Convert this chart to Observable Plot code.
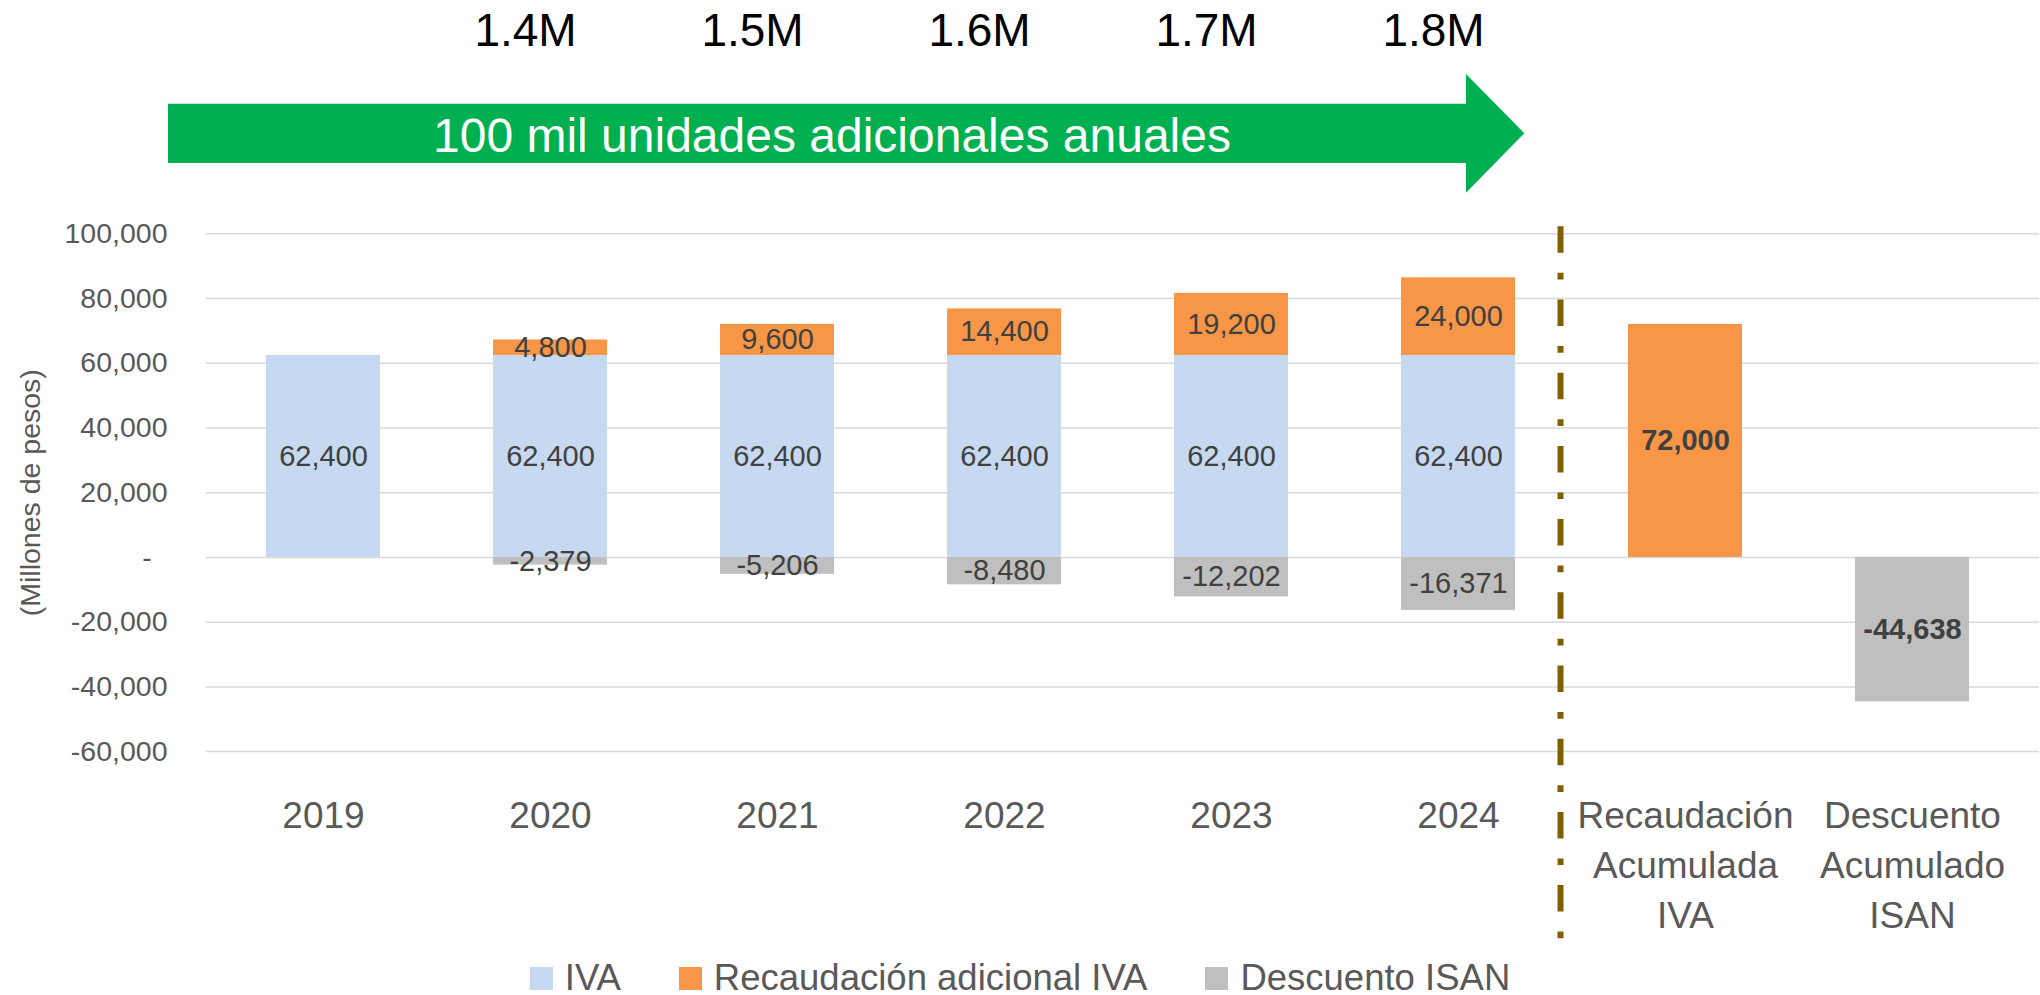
<!DOCTYPE html>
<html>
<head>
<meta charset="utf-8">
<script src="https://cdn.jsdelivr.net/npm/d3@7"></script>
<script src="https://cdn.jsdelivr.net/npm/@observablehq/plot@0.6"></script>
<style>
  html, body { margin: 0; padding: 0; background: #ffffff; }
  body { font-family: "Liberation Sans", Arial, sans-serif; width: 2040px; height: 995px; overflow: hidden; }
  #chart svg { display: block; }
  .legend { display: flex; justify-content: center; gap: 58px; height: 40px; line-height: 45px;
            font-size: 36.5px; color: #595959; white-space: nowrap; }
  .sw { display: inline-block; width: 23px; height: 23px; margin-right: 12px; }
</style>
</head>
<body>
<div id="chart"></div>
<div class="legend" id="legend"></div>
<script>
// ---- data ----
const categories = ["2019", "2020", "2021", "2022", "2023", "2024",
  "Recaudación\nAcumulada\nIVA", "Descuento\nAcumulado\nISAN"];
const iva       = [62400, 62400, 62400, 62400, 62400, 62400, null, null];
const adicional = [null, 4800, 9600, 14400, 19200, 24000, 72000, null];
const descuento = [null, -2379, -5206, -8480, -12202, -16371, null, -44638];
const seriesNames  = ["IVA", "Recaudación adicional IVA", "Descuento ISAN"];
const seriesColors = ["#C6D9F1", "#F79646", "#BFBFBF"];
const topCats   = ["2020", "2021", "2022", "2023", "2024"];
const topLabels = ["1.4M", "1.5M", "1.6M", "1.7M", "1.8M"];
const yTicks = [-60000, -40000, -20000, 0, 20000, 40000, 60000, 80000, 100000];
const arrowText = "100 mil unidades adicionales anuales";
const yTitle = "(Millones de pesos)";
const accumulated = categories.slice(6);

// ---- long table ----
const seriesValues = [iva, adicional, descuento];
const rows = [];
seriesValues.forEach((vals, s) => {
  vals.forEach((v, i) => {
    if (v != null) rows.push({cat: categories[i], series: seriesNames[s], value: v});
  });
});

const num = d3.format(",");
const fmt = d => (d < 0 ? "-" : "") + num(Math.abs(d));
const fmtTick = d => d === 0 ? "-\u2007" : fmt(d);

const font = "'Liberation Sans', Arial, sans-serif";
const H = 955;
const frameTop = 233.3, frameBottom = 751.1;

const chart = Plot.plot({
  width: 2040,
  height: H,
  marginLeft: 206,
  marginRight: 1,
  marginTop: frameTop,
  marginBottom: H - frameBottom,
  style: {fontFamily: font, background: "#ffffff", color: "#595959"},
  x: {type: "band", domain: categories, paddingInner: 0.5, paddingOuter: 0.273, align: 0.458, axis: null},
  y: {domain: [-60000, 100000], axis: null},
  color: {domain: seriesNames, range: seriesColors},
  marks: [
    Plot.ruleY(yTicks, {y: d => d, stroke: "#D9D9D9", strokeWidth: 1.5}),
    Plot.text(yTicks, {y: d => d, text: fmtTick, frameAnchor: "left", textAnchor: "end",
      dx: -39, fontSize: 28.5, fill: "#595959"}),
    Plot.barY(rows, {x: "cat", y: "value", fill: "series"}),
    Plot.text(rows.filter(r => !accumulated.includes(r.cat)),
      Plot.stackY({x: "cat", y: "value", z: "series", text: d => fmt(d.value),
        fill: "#404040", fontSize: 29})),
    Plot.text(rows.filter(r => accumulated.includes(r.cat)),
      Plot.stackY({x: "cat", y: "value", z: "series", text: d => fmt(d.value),
        fill: "#404040", fontSize: 29, fontWeight: "bold"})),
    Plot.text(categories, {x: d => d, text: d => d, frameAnchor: "bottom", lineAnchor: "top",
      dy: 41, fontSize: 37, lineHeight: 1.351, fill: "#595959"}),
    Plot.text(topLabels, {x: (d, i) => topCats[i], text: d => d, frameAnchor: "top",
      lineAnchor: "top", dy: -220, dx: -25, fontSize: 46, fill: "#000000"}),
    Plot.ruleX(["2024"], {x: d => d, dx: 102, insetTop: -7, insetBottom: -188,
      stroke: "#7F6000", strokeWidth: 6, strokeDasharray: "26.5,20,6.7,20"}),
    Plot.text([yTitle], {text: d => d, frameAnchor: "left", textAnchor: "middle", rotate: -90, dx: -176,
      fontSize: 28.5, fill: "#595959"})
  ]
});

// green annotation arrow above the plot
const arrow = {x0: 168, xHead: 1466, xTip: 1524.3, bodyTop: 103.7, bodyBottom: 163, headTop: 74, headBottom: 192.7};
const svg = d3.select(chart);
const ay = (arrow.headTop + arrow.headBottom) / 2;
svg.append("path")
  .attr("d", `M${arrow.x0},${arrow.bodyTop} L${arrow.xHead},${arrow.bodyTop} L${arrow.xHead},${arrow.headTop} L${arrow.xTip},${ay} L${arrow.xHead},${arrow.headBottom} L${arrow.xHead},${arrow.bodyBottom} L${arrow.x0},${arrow.bodyBottom} Z`)
  .attr("fill", "#00B050");
svg.append("text")
  .attr("x", 832).attr("y", 151.7)
  .attr("text-anchor", "middle")
  .attr("font-size", 48)
  .attr("fill", "#ffffff")
  .attr("font-family", font)
  .text(arrowText);

document.getElementById("chart").appendChild(chart);

// legend
const legend = d3.select("#legend");
seriesNames.forEach((name, i) => {
  const item = legend.append("span");
  item.append("span").attr("class", "sw").style("background", seriesColors[i]);
  item.append("span").text(name);
});
</script>
</body>
</html>
